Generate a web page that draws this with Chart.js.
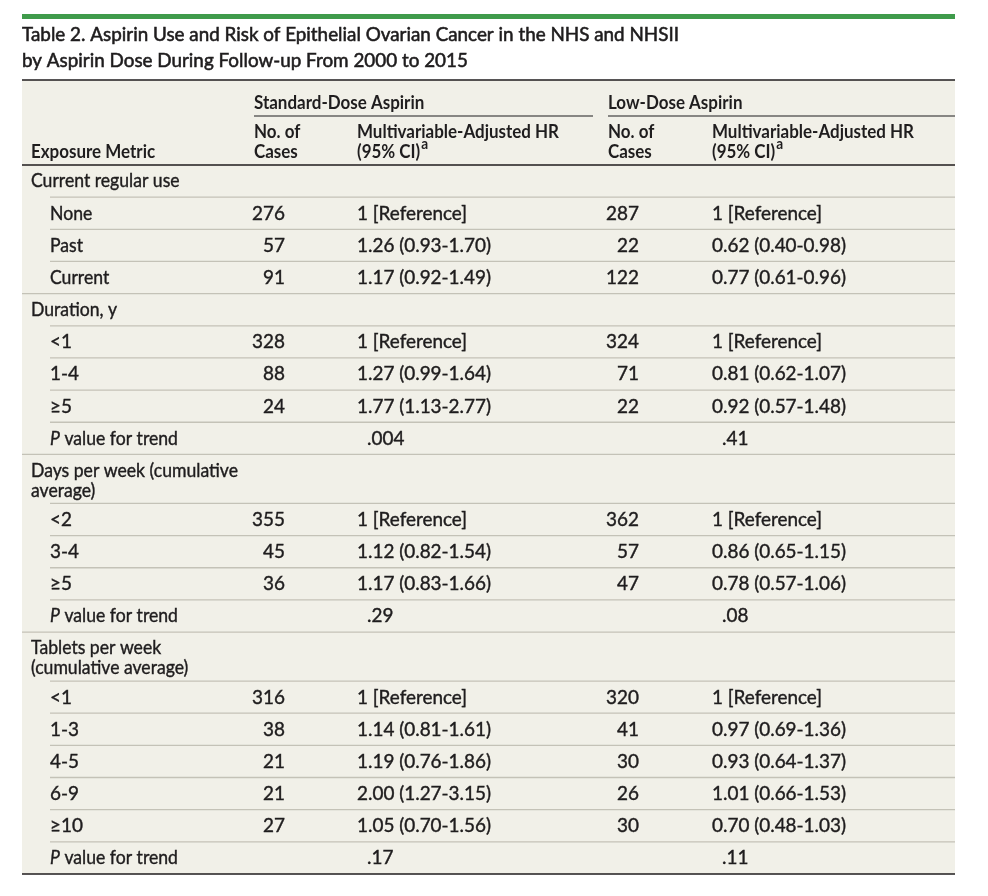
<!DOCTYPE html>
<html>
<head>
<meta charset="utf-8">
<script src="https://cdn.jsdelivr.net/npm/chart.js@4.4.1/dist/chart.umd.min.js"></script>
<style>
  html, body { margin: 0; background: #fff; }
</style>
</head>
<body>
<canvas id="tableChart" width="988" height="896"></canvas>
<script>
const titleLines = [
    'Table 2. Aspirin Use and Risk of Epithelial Ovarian Cancer in the NHS and NHSII',
    'by Aspirin Dose During Follow-up From 2000 to 2015'
];
const spanners = ['Standard-Dose Aspirin', 'Low-Dose Aspirin'];
const colHeads = ['No. of|Cases', 'Multivariable-Adjusted HR|(95% CI)'];
const stubHead = 'Exposure Metric';

const groups = ['Current regular use', 'Duration, y', 'Days per week (cumulative|average)', 'Tablets per week|(cumulative average)'];
const levels = [
    ['None', 'Past', 'Current'],
    ['<1', '1-4', '≥5'],
    ['<2', '3-4', '≥5'],
    ['<1', '1-3', '4-5', '6-9', '≥10']
];
const stdCases = [[276, 57, 91], [328, 88, 24], [355, 45, 36], [316, 38, 21, 21, 27]];
const stdHR = [
    ['1 [Reference]', '1.26 (0.93-1.70)', '1.17 (0.92-1.49)'],
    ['1 [Reference]', '1.27 (0.99-1.64)', '1.77 (1.13-2.77)'],
    ['1 [Reference]', '1.12 (0.82-1.54)', '1.17 (0.83-1.66)'],
    ['1 [Reference]', '1.14 (0.81-1.61)', '1.19 (0.76-1.86)', '2.00 (1.27-3.15)', '1.05 (0.70-1.56)']
];
const lowCases = [[287, 22, 122], [324, 71, 22], [362, 57, 47], [320, 41, 30, 26, 30]];
const lowHR = [
    ['1 [Reference]', '0.62 (0.40-0.98)', '0.77 (0.61-0.96)'],
    ['1 [Reference]', '0.81 (0.62-1.07)', '0.92 (0.57-1.48)'],
    ['1 [Reference]', '0.86 (0.65-1.15)', '0.78 (0.57-1.06)'],
    ['1 [Reference]', '0.97 (0.69-1.36)', '0.93 (0.64-1.37)', '1.01 (0.66-1.53)', '0.70 (0.48-1.03)']
];
const pTrendStd = [null, '.004', '.29', '.17'];
const pTrendLow = [null, '.41', '.08', '.11'];

// ---- layout (table units = px inside the table box) ----
const TABLE_W = 933;
const COL = { group: 9, level: 28, stdN: 263, stdHR: 335, stdP: 345, lowN: 617, lowHR: 690, lowP: 700 };
const SPAN = [[232, 571], [586, 933]];
const HEAD_H = 85, ROW_H = 32.16, ROW2_H = 49, FIRST_LINE = 16, LINE_GAP = 20;

const INK = '#1f1d1e';
const RULE = '#c4c2b7';
const FILL = '#f1f0e8';
const GREEN = '#3f9b4b';

// build cells and rules from the arrays
const cells = [];
const rules = [];

spanners.forEach((s, i) => {
    cells.push({ x: SPAN[i][0], y: 23, t: s, style: 'head' });
    rules.push({ y: 36, x0: SPAN[i][0], x1: SPAN[i][1], kind: 'span' });
    const hrX = i === 0 ? COL.stdHR : COL.lowHR;
    colHeads[0].split('|').forEach((ln, k) => cells.push({ x: SPAN[i][0], y: 52 + k * LINE_GAP, t: ln, style: 'head' }));
    colHeads[1].split('|').forEach((ln, k) => cells.push({ x: hrX, y: 52 + k * LINE_GAP, t: ln, style: 'head', sup: k === 1 ? 'a' : null }));
});
cells.push({ x: COL.group, y: 72, t: stubHead, style: 'head' });
rules.push({ y: 0, x0: 0, x1: TABLE_W, kind: 'heavy' });
rules.push({ y: HEAD_H, x0: 0, x1: TABLE_W, kind: 'heavy' });

let yPos = HEAD_H;
groups.forEach((g, gi) => {
    const lines = g.split('|');
    lines.forEach((ln, k) => cells.push({ x: COL.group, y: yPos + FIRST_LINE + k * LINE_GAP, t: ln, style: 'body' }));
    yPos += lines.length > 1 ? ROW2_H : ROW_H;

    levels[gi].forEach((lv, li) => {
        rules.push({ y: yPos, x0: COL.level, x1: TABLE_W, kind: 'thin' });
        const cy = yPos + ROW_H / 2;
        cells.push({ x: COL.level, y: cy, t: lv, style: /^[<≥\d]/.test(lv) ? 'num' : 'body' });
        cells.push({ x: COL.stdN, y: cy, t: String(stdCases[gi][li]), style: 'num', align: 'right' });
        cells.push({ x: COL.stdHR, y: cy, t: stdHR[gi][li], style: 'num' });
        cells.push({ x: COL.lowN, y: cy, t: String(lowCases[gi][li]), style: 'num', align: 'right' });
        cells.push({ x: COL.lowHR, y: cy, t: lowHR[gi][li], style: 'num' });
        yPos += ROW_H;
    });

    if (pTrendStd[gi]) {
        rules.push({ y: yPos, x0: COL.level, x1: TABLE_W, kind: 'thin' });
        const cy = yPos + ROW_H / 2;
        cells.push({ x: COL.level, y: cy, t: ' value for trend', style: 'body', italicLead: 'P' });
        cells.push({ x: COL.stdP, y: cy, t: pTrendStd[gi], style: 'num' });
        cells.push({ x: COL.lowP, y: cy, t: pTrendLow[gi], style: 'num' });
        yPos += ROW_H;
    }
    if (gi < groups.length - 1) rules.push({ y: yPos, x0: 0, x1: TABLE_W, kind: 'thin' });
});
rules.push({ y: yPos, x0: 0, x1: TABLE_W, kind: 'heavy' });
const TABLE_H = yPos;

// fonts: Lato at the reference cap height, squeezed horizontally to the reference widths
const FAMILY = 'Lato, "Noto Sans", sans-serif';
const STYLE = {
    title: { size: 18.6, weight: 'normal', stroke: 0.55, sample: titleLines[0], width: 657 },
    head: { size: 18.4, weight: 'bold', stroke: 0, sample: 'Multivariable-Adjusted HR', width: 202 },
    body: { size: 18.8, weight: 'normal', stroke: 0.4, sample: 'Days per week (cumulative', width: 207 },
    num: { size: 18.8, weight: 'normal', stroke: 0.4, sample: '1.26 (0.93-1.70)', width: 134 }
};
const fontOf = (s, italic, size) => `${italic ? 'italic ' : ''}${s.weight} ${(size || s.size).toFixed(2)}px ${FAMILY}`;
const measureCtx = document.createElement('canvas').getContext('2d');
Object.values(STYLE).forEach(s => {
    measureCtx.font = fontOf(s);
    s.sx = s.width / measureCtx.measureText(s.sample).width;
});

function drawText(ctx, text, x, y, s, opts = {}) {
    ctx.save();
    ctx.translate(x, y);
    ctx.scale(s.sx, 1);
    ctx.font = fontOf(s, opts.italic, opts.size);
    ctx.textAlign = opts.align || 'left';
    ctx.fillText(text, 0, 0);
    if (s.stroke) {
        // the reference face is a little heavier than Lato Regular
        ctx.lineWidth = s.stroke;
        ctx.strokeStyle = ctx.fillStyle;
        ctx.strokeText(text, 0, 0);
    }
    const w = ctx.measureText(text).width * s.sx;
    ctx.restore();
    return w;
}

const tablePlugin = {
    id: 'tableDraw',
    beforeDraw(chart) {
        const { ctx, chartArea: a } = chart;
        ctx.save();
        ctx.fillStyle = '#fff';
        ctx.fillRect(0, 0, chart.width, chart.height);
        // green band and title
        ctx.fillStyle = GREEN;
        ctx.fillRect(a.left, 14, a.right - a.left, 5);
        ctx.fillStyle = INK;
        ctx.textBaseline = 'alphabetic';
        titleLines.forEach((ln, i) => drawText(ctx, ln, a.left, 40.5 + i * 26, STYLE.title));
        // table fill
        ctx.fillStyle = FILL;
        ctx.fillRect(a.left, a.top, a.right - a.left, a.bottom - a.top);
        ctx.restore();
    },
    afterDatasetsDraw(chart) {
        const { ctx, scales: { x, y } } = chart;
        ctx.save();
        rules.forEach(r => {
            const py = y.getPixelForValue(r.y);
            ctx.beginPath();
            ctx.strokeStyle = r.kind === 'thin' ? RULE : INK;
            ctx.lineWidth = r.kind === 'heavy' ? 1.5 : (r.kind === 'span' ? 1.2 : 1.3);
            ctx.moveTo(x.getPixelForValue(r.x0), py);
            ctx.lineTo(x.getPixelForValue(r.x1), py);
            ctx.stroke();
        });

        const meta = chart.getDatasetMeta(0);
        const data = chart.data.datasets[0].data;
        ctx.fillStyle = INK;
        ctx.textBaseline = 'alphabetic';
        meta.data.forEach((pt, i) => {
            const c = data[i];
            const s = STYLE[c.style];
            const base = pt.y + s.size * 0.34;
            let px = pt.x;
            if (c.italicLead) px += drawText(ctx, c.italicLead, px, base, s, { italic: true });
            const w = drawText(ctx, c.t, px, base, s, { align: c.align });
            if (c.sup) drawText(ctx, c.sup, px + w + 1, base - s.size * 0.52, s, { size: s.size * 0.8 });
        });
        ctx.restore();
    }
};

new Chart(document.getElementById('tableChart'), {
    type: 'scatter',
    data: {
        datasets: [{
            data: cells,
            pointRadius: 0,
            pointHoverRadius: 0
        }]
    },
    options: {
        responsive: false,
        animation: false,
        devicePixelRatio: 1,
        layout: { padding: { left: 22, right: 33, top: 80, bottom: 22 } },
        plugins: { legend: { display: false }, tooltip: { enabled: false }, title: { display: false } },
        scales: {
            x: { type: 'linear', display: false, min: 0, max: TABLE_W },
            y: { type: 'linear', display: false, min: 0, max: TABLE_H, reverse: true }
        }
    },
    plugins: [tablePlugin]
});
</script>
</body>
</html>
